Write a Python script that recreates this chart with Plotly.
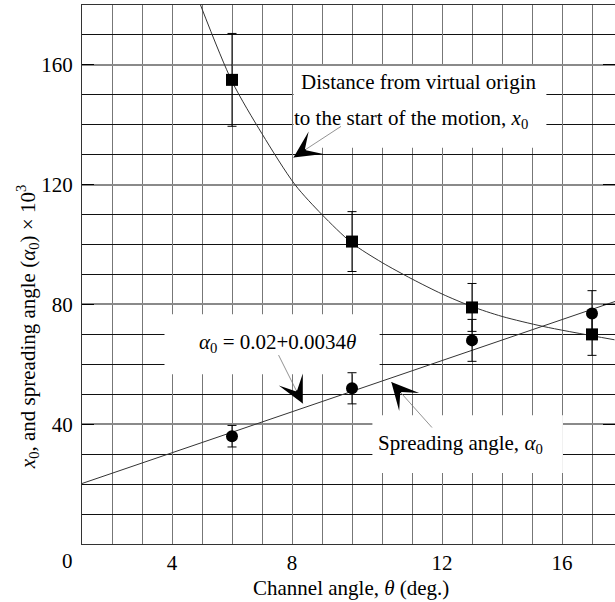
import plotly.graph_objects as go

# ---------------- data ----------------
theta_pts = [5, 9, 13, 17]                 # channel angle (deg)
x0_vals = [155, 101, 79, 70]               # x0 (x 10^3 scale units)
x0_err = [15.5, 10, 8, 7]
alpha_vals = [36, 52, 68, 77]              # spreading angle x 10^3
alpha_err = [3.6, 5.2, 7, 7.6]

curve_theta = [3.95, 5.0, 6.0, 7.1, 8.0, 9.0, 10.0, 11.0, 12.0, 13.0, 14.0, 15.4, 17.75]
curve_x0 = [180, 154.5, 137, 120, 110, 100.5, 94, 88.5, 83.5, 79.3, 76, 72.6, 68.2]

line_theta = [0, 17.77]
line_alpha = [20.2, 81.0]

x_tickvals = [3, 7, 12, 16]
x_ticktext = ["4", "8", "12", "16"]
y_tickvals = [0, 40, 80, 120, 160]
y_ticktext = ["", "40", "80", "120", "160"]
y_minorvals = [10, 20, 30, 50, 60, 70, 90, 100, 110, 130, 140, 150, 170]

FONT = "Liberation Serif, Times New Roman, serif"
FS = 21

fig = go.Figure()

fig.add_trace(go.Scatter(x=curve_theta, y=curve_x0, mode="lines",
                         line=dict(color="#333", width=1, shape="spline", smoothing=0.8),
                         hoverinfo="skip", showlegend=False))
fig.add_trace(go.Scatter(x=line_theta, y=line_alpha, mode="lines",
                         line=dict(color="#333", width=1),
                         hoverinfo="skip", showlegend=False))
fig.add_trace(go.Scatter(x=theta_pts, y=x0_vals, mode="markers",
                         marker=dict(symbol="square", size=12, color="black"),
                         error_y=dict(type="data", array=x0_err, color="black",
                                      thickness=1, width=4.5),
                         showlegend=False))
fig.add_trace(go.Scatter(x=theta_pts, y=alpha_vals, mode="markers",
                         marker=dict(symbol="circle", size=12, color="black"),
                         error_y=dict(type="data", array=alpha_err, color="black",
                                      thickness=1, width=4.5),
                         showlegend=False))

# white label boxes (drawn over the grid, under the data)
boxes = [(7.05, 132.3, 15.48, 159.6), (2.75, 56.7, 9.92, 76.7), (9.68, 23.7, 16.03, 43.0)]
for x0, y0, x1, y1 in boxes:
    fig.add_shape(type="rect", xref="x", yref="y", x0=x0, y0=y0, x1=x1, y1=y1,
                  fillcolor="white", line=dict(width=0), layer="between")

texts = [
    ("Distance from virtual origin", 11.22, 154.3),
    ("to the start of the motion, <i>x</i><sub>0</sub>", 10.95, 142.0),
    ("<i>α</i><sub>0</sub> = 0.02+0.0034<i>θ</i>", 6.53, 67.0),
    ("Spreading angle, <i>α</i><sub>0</sub>", 12.61, 33.3),
]
for t, x, y in texts:
    fig.add_annotation(x=x, y=y, xref="x", yref="y", text=t, showarrow=False,
                       font=dict(family=FONT, size=FS, color="black"),
                       xanchor="center", yanchor="middle")

arrows = [((7.05, 129.1), (49, -32)), ((7.36, 46.9), (-25, -50)), ((10.31, 54.1), (42, 47))]
for (tx, ty), (ax, ay) in arrows:
    fig.add_annotation(x=tx, y=ty, xref="x", yref="y", ax=ax, ay=ay, text="",
                       showarrow=True, arrowhead=0, arrowcolor="#777", arrowwidth=0.8)
    n = (ax ** 2 + ay ** 2) ** 0.5
    fig.add_annotation(x=tx, y=ty, xref="x", yref="y", ax=ax / n * 16, ay=ay / n * 16,
                       text="", showarrow=True, arrowhead=3, arrowsize=3.2,
                       arrowwidth=1.4, arrowcolor="black")

# axis titles and corner label
fig.add_annotation(x=-0.101, y=0.4026, xref="paper", yref="paper", textangle=-90,
                   text="<i>x</i><sub>0</sub>, and spreading angle (<i>α</i><sub>0</sub>) × 10<sup>3</sup>",
                   showarrow=False, font=dict(family=FONT, size=FS, color="black"),
                   xanchor="center", yanchor="middle")
fig.add_annotation(x=0.505, y=-0.0816, xref="paper", yref="paper",
                   text="Channel angle, <i>θ</i> (deg.)", showarrow=False,
                   font=dict(family=FONT, size=FS, color="black"),
                   xanchor="center", yanchor="middle")
fig.add_annotation(x=-0.0272, y=-0.0315, xref="paper", yref="paper", text="0",
                   showarrow=False, font=dict(family=FONT, size=FS, color="black"),
                   xanchor="center", yanchor="middle")

fig.update_xaxes(range=[0, 533 / 30], tickmode="array", tickvals=x_tickvals,
                 ticktext=x_ticktext, ticks="", showgrid=True, gridcolor="#777",
                 gridwidth=1, zeroline=False, showline=True, linecolor="#333",
                 linewidth=1, mirror=True,
                 tickfont=dict(family=FONT, size=FS, color="black"),
                 minor=dict(dtick=1, tick0=0, showgrid=True, gridcolor="#777", gridwidth=1))
fig.update_yaxes(range=[0, 180], tickmode="array", tickvals=y_tickvals,
                 ticktext=y_ticktext, ticks="inside", ticklen=12, tickcolor="black",
                 tickwidth=1, showgrid=True, gridcolor="#8a8a8a", gridwidth=1.5,
                 zeroline=False, showline=True, linecolor="#333", linewidth=1,
                 mirror="ticks", ticklabelstandoff=4,
                 tickfont=dict(family=FONT, size=FS, color="black"),
                 minor=dict(tickmode="array", tickvals=y_minorvals, showgrid=True,
                            gridcolor="#111", gridwidth=1, ticks=""))

fig.update_layout(width=615, height=602, margin=dict(l=82, r=0, t=5, b=58),
                  plot_bgcolor="white", paper_bgcolor="white", showlegend=False,
                  font=dict(family=FONT, size=FS, color="black"))

fig.write_html("out.html", config={"displayModeBar": False},
               post_script="document.body.style.margin='0px';document.body.style.overflow='hidden';")
